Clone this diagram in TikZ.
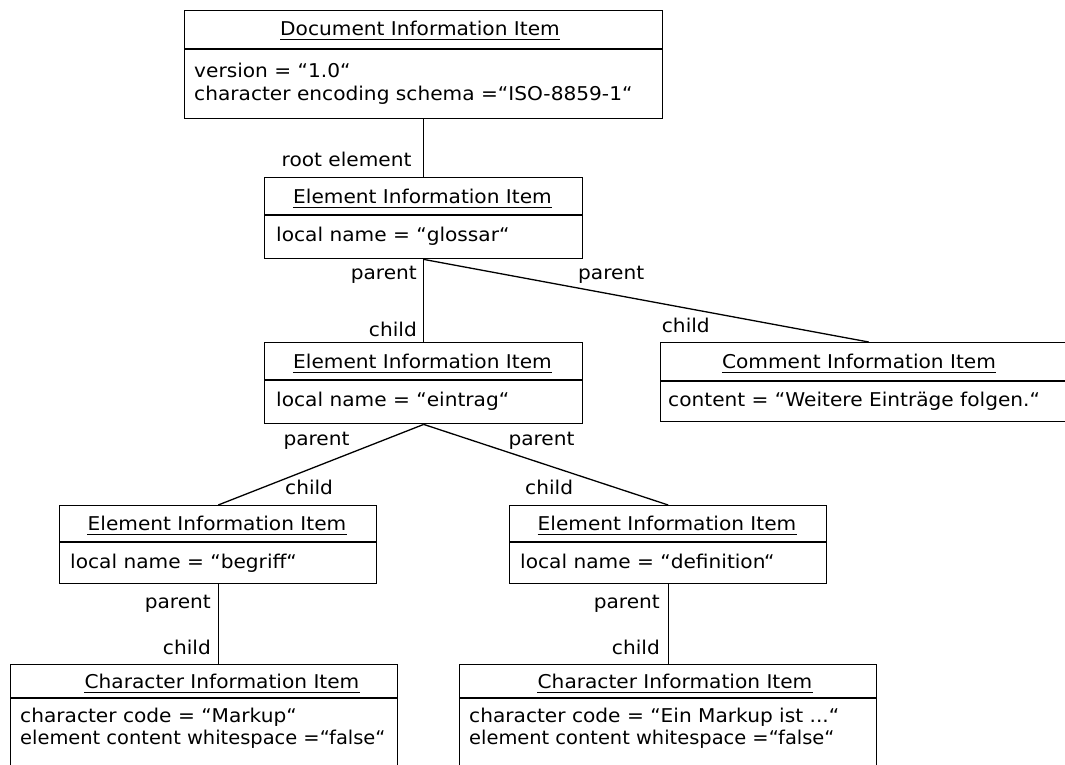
\documentclass[tikz,border=0pt]{standalone}
\usepackage{fontspec}
\setmainfont{DejaVu Sans}[FakeStretch=1.06]
\begin{document}
\begin{tikzpicture}[x=1pt,y=-1pt,
  every node/.style={font=\fontsize{19pt}{23pt}\selectfont, inner sep=0pt},
  box/.style={draw, line width=1.4pt, rectangle, anchor=north west},
  divider/.style={line width=1.4pt},
  link/.style={line width=1.3pt},
  uline/.style={line width=1.1pt},
  title/.style={anchor=base},
  attr/.style={anchor=base west},
  lblL/.style={anchor=base east},
  lblR/.style={anchor=base west}]
\useasboundingbox (0,0) rectangle (1065,764);
\clip (0,0) rectangle (1065,764);

% underline below a title node
\newcommand\ulnode[1]{\draw[uline] ([yshift=-4.3pt]#1.base west) -- ([yshift=-4.3pt]#1.base east);}
% slightly condensed text for the longest attribute lines
\newcommand\narrow[1]{\scalebox{0.965}[1]{#1}}

% Document information item
\node[box, minimum width=478pt, minimum height=108pt] (doc) at (184,10) {};
\draw[divider] (doc.west |- 0,49) -- (doc.east |- 0,49);
\node[title] (docT) at (420,35.5) {Document Information Item};
\ulnode{docT}
\node[attr] (docA1) at (194,77) {version = “1.0“};
\node[attr] (docA2) at (194,100) {character encoding schema =“ISO-8859-1“};

% Element glossar
\node[box, minimum width=318pt, minimum height=81pt] (glossar) at (264,177) {};
\draw[divider] (glossar.west |- 0,215) -- (glossar.east |- 0,215);
\node[title] (glossarT) at (422.5,203.3) {Element Information Item};
\ulnode{glossarT}
\node[attr] (glossarA) at (276,241.7) {local name = “glossar“};

% Element eintrag
\node[box, minimum width=318pt, minimum height=81pt] (eintrag) at (264,342) {};
\draw[divider] (eintrag.west |- 0,380) -- (eintrag.east |- 0,380);
\node[title] (eintragT) at (422.5,368) {Element Information Item};
\ulnode{eintragT}
\node[attr] (eintragA) at (276,406.7) {local name = “eintrag“};

% Comment
\node[box, minimum width=416pt, minimum height=79pt] (comment) at (660,342) {};
\draw[divider] (comment.west |- 0,381) -- (comment.east |- 0,381);
\node[title] (commentT) at (859,368) {Comment Information Item};
\ulnode{commentT}
\node[attr] (commentA) at (668,406) {content = “Weitere Einträge folgen.“};

% Element begriff
\node[box, minimum width=317pt, minimum height=78pt] (begriff) at (59,505) {};
\draw[divider] (begriff.west |- 0,542) -- (begriff.east |- 0,542);
\node[title] (begriffT) at (217,530.3) {Element Information Item};
\ulnode{begriffT}
\node[attr] (begriffA) at (70,568.7) {local name = “begriff“};

% Element definition
\node[box, minimum width=317pt, minimum height=78pt] (definition) at (509,505) {};
\draw[divider] (definition.west |- 0,542) -- (definition.east |- 0,542);
\node[title] (definitionT) at (667,530.3) {Element Information Item};
\ulnode{definitionT}
\node[attr] (definitionA) at (520,568.7) {local name = “definition“};

% Character items
\node[box, minimum width=387pt, minimum height=120pt] (charl) at (10,664) {};
\draw[divider] (charl.west |- 0,698) -- (charl.east |- 0,698);
\node[title] (charlT) at (222,688.3) {Character Information Item\ };
\ulnode{charlT}
\node[attr] (charlA1) at (20,722.7) {character code = “Markup“};
\node[attr] (charlA2) at (20,744.5) {\narrow{element content whitespace =“false“}};

\node[box, minimum width=417pt, minimum height=120pt] (charr) at (459,664) {};
\draw[divider] (charr.west |- 0,698) -- (charr.east |- 0,698);
\node[title] (charrT) at (675,688.3) {Character Information Item\ };
\ulnode{charrT}
\node[attr] (charrA1) at (469,722.7) {character code = “Ein Markup ist ...“};
\node[attr] (charrA2) at (469,744.5) {\narrow{element content whitespace =“false“}};

% Connectors
\draw[link] (doc.south) -- (glossar.north);
\draw[link] (glossar.south) -- (eintrag.north);
\draw[link] (glossar.south) -- (comment.north);
\draw[link] (eintrag.south) -- (begriff.north);
\draw[link] (eintrag.south) -- (definition.north);
\draw[link] (begriff.south) -- (begriff.south |- charl.north);
\draw[link] (definition.south) -- (definition.south |- charr.north);

% Role labels
\node[lblL] (lRoot) at (411.7,166.7) {root element};
\node[lblL] (lP1) at (417,279.3) {parent};
\node[lblL] (lC1) at (417,336.7) {child};
\node[lblR] (lP2) at (578,279.3) {parent};
\node[lblR] (lC2) at (661.7,332.3) {child};
\node[lblR] (lP3) at (283.3,445) {parent};
\node[lblR] (lC3) at (285,494) {child};
\node[lblR] (lP4) at (508.3,445) {parent};
\node[lblR] (lC4) at (525,494) {child};
\node[lblL] (lP5) at (211,608) {parent};
\node[lblL] (lC5) at (211,654) {child};
\node[lblL] (lP6) at (660,608) {parent};
\node[lblL] (lC6) at (660,654) {child};
\end{tikzpicture}
\end{document}
